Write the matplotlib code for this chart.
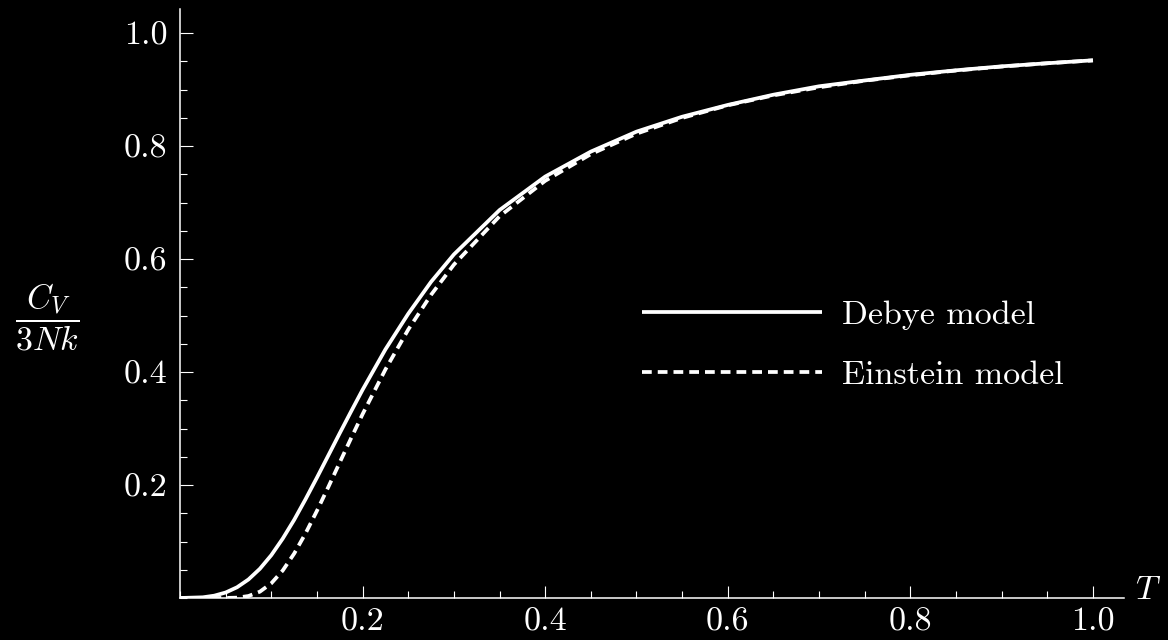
import matplotlib
matplotlib.use("Agg")
import matplotlib.pyplot as plt
from matplotlib.ticker import FixedLocator, MultipleLocator

# Values (T in units of the Debye temperature)
T = [0.0, 0.025, 0.0375, 0.05, 0.0625, 0.075, 0.0875, 0.1, 0.1125, 0.125,
     0.1375, 0.15, 0.1625, 0.175, 0.1875, 0.2, 0.225, 0.25, 0.275, 0.3,
     0.35, 0.4, 0.45, 0.5, 0.55, 0.6, 0.65, 0.7, 0.75, 0.8, 0.85, 0.9,
     0.95, 1.0]
debye = [0.0, 0.0012, 0.0041, 0.0097, 0.0190, 0.0328, 0.0517, 0.0758,
         0.1051, 0.1382, 0.1748, 0.2131, 0.2524, 0.2918, 0.3305, 0.3686,
         0.4400, 0.5031, 0.5596, 0.6081, 0.6866, 0.7459, 0.7901, 0.8254,
         0.8518, 0.8727, 0.8908, 0.9057, 0.9160, 0.9260, 0.9340, 0.9410,
         0.9465, 0.9517]
einstein = [0.0, 0.0, 0.0, 0.0001, 0.0006, 0.0035, 0.0112, 0.0260,
            0.0486, 0.0785, 0.1143, 0.1543, 0.1966, 0.2400, 0.2831, 0.3254,
            0.4045, 0.4751, 0.5366, 0.5900, 0.6756, 0.7384, 0.7856, 0.8218,
            0.8497, 0.8720, 0.8896, 0.9039, 0.9156, 0.9252, 0.9336, 0.9406,
            0.9465, 0.9515]
x_ticks = [0.2, 0.4, 0.6, 0.8, 1.0]
y_ticks = [0.2, 0.4, 0.6, 0.8, 1.0]

plt.rcParams['font.family'] = 'serif'
plt.rcParams['font.serif'] = ['cmr10']
plt.rcParams['mathtext.fontset'] = 'cm'
plt.rcParams['axes.formatter.use_mathtext'] = True

fs = 24.5
fig = plt.figure(figsize=(11.68, 6.4), dpi=100, facecolor='black')
ax = fig.add_axes([180 / 1168, 42 / 640, 944 / 1168, 589 / 640])
ax.set_facecolor('black')

ax.plot(T, debye, color='white', lw=2.7, solid_capstyle='butt',
        label='Debye model')
ax.plot(T, einstein, color='white', lw=2.7, linestyle=(0, (2.6, 1.6)),
        dash_capstyle='butt', label='Einstein model')

ax.set_xlim(0, 1.034)
ax.set_ylim(0, 1.0425)

for s in ['top', 'right']:
    ax.spines[s].set_visible(False)
for s in ['left', 'bottom']:
    ax.spines[s].set_color('white')
    ax.spines[s].set_linewidth(1.1)

ax.xaxis.set_major_locator(FixedLocator(x_ticks))
ax.yaxis.set_major_locator(FixedLocator(y_ticks))
ax.set_xticklabels(['%.1f' % v for v in x_ticks])
ax.set_yticklabels(['%.1f' % v for v in y_ticks])
ax.xaxis.set_minor_locator(MultipleLocator(0.05))
ax.yaxis.set_minor_locator(MultipleLocator(0.05))
ax.tick_params(which='both', direction='in', color='white', labelcolor='white',
               labelsize=fs, width=0.8)
ax.tick_params(which='major', length=9)
ax.tick_params(which='minor', length=5)
ax.tick_params(axis='x', which='major', pad=7)
ax.tick_params(axis='y', which='major', pad=9)

fig.text(1148 / 1168, 1 - 590 / 640, '$T$', color='white', fontsize=fs,
         ha='center', va='center')
fig.text(47 / 1168, 1 - 317 / 640, r'$\dfrac{C_V}{3Nk}$', color='white',
         fontsize=fs, ha='center', va='center')

leg = ax.legend(loc='center left', bbox_to_anchor=(0.489, 0.4295),
                frameon=False, fontsize=fs, handlelength=5.3,
                handletextpad=0.6, labelspacing=0.9, borderpad=0,
                borderaxespad=0)
for t in leg.get_texts():
    t.set_color('white')

fig.savefig('out.png', dpi=100, facecolor='black')
